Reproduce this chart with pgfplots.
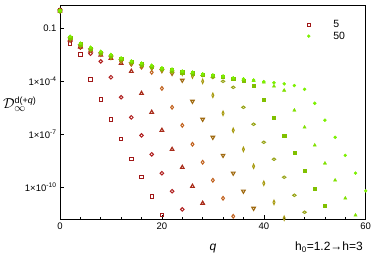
\documentclass[border=0pt]{standalone}
\usepackage{pgfplots}
\pgfplotsset{compat=1.18}
\usepackage{fontspec}
\setmainfont{Liberation Sans}
\definecolor{c5}{HTML}{A01818}
\definecolor{c10}{HTML}{B02020}
\definecolor{c15}{HTML}{A82A18}
\definecolor{c20}{HTML}{C0601C}
\definecolor{c25}{HTML}{A06A10}
\definecolor{c30}{HTML}{A89A10}
\definecolor{c35}{HTML}{98A418}
\definecolor{c40}{HTML}{80C000}
\definecolor{c45}{HTML}{80E000}
\definecolor{c50}{HTML}{7CF000}
\begin{document}
\begin{tikzpicture}
\useasboundingbox (-60pt,-44.7pt) rectangle (314pt,219.3pt);
\begin{axis}[
  scale only axis, width=305.7pt, height=214.3pt,
  xmin=0, xmax=60, ymode=log, ymin=1.55e-12, ymax=2.1,
  xtick={0,20,40,60}, xticklabels={0,20,40,60}, minor x tick num=4,
  ytick={0.1,1e-4,1e-7,1e-10},
  yticklabels={0.1,1×10\textsuperscript{-4},1×10\textsuperscript{-7},1×10\textsuperscript{-10}},
  yminorticks=false,
  tick pos=left, tick align=inside,
  major tick length=4pt, minor tick length=2.5pt,
  tick style={black, line width=0.6pt},
  axis line style={line width=0.8pt},
  ticklabel style={font=\fontsize{9.5}{10}\selectfont},
  clip=false,
  only marks,
  legend image code/.code={\path (-2pt,0pt) (22pt,0pt); \draw[#1] plot coordinates {(0pt,0pt)};},
  legend style={draw=none, fill=none, at={(0.805,0.938)}, anchor=north west,
    font=\fontsize{10.5}{12}\selectfont, inner sep=0pt, row sep=-1.5pt},
  legend cell align=left,
]
\addplot[c5, mark=square, mark size=1.7pt, line width=1pt] coordinates {
(0,1) (2,0.141e-1) (4,0.339e-2) (6,0.129e-3) (8,0.955e-5) (10,0.708e-6) (12,0.525e-7) (14,0.389e-8) (16,0.372e-9) (18,0.309e-10) (20,0.263e-11)};
\addlegendentry{5}
\addplot[c10, mark=o, mark size=1.8pt, line width=1pt, forget plot] coordinates {
(0,1) (2,0.204e-1) (4,0.832e-2) (6,0.372e-2) (8,0.135e-2) (10,0.170e-3) (12,0.126e-4) (14,0.912e-6) (16,0.871e-7) (18,0.741e-8) (20,0.631e-9) (22,0.603e-10) (24,0.562e-11)};
\addplot[c15, mark=triangle, mark size=2.1pt, line width=1.1pt, forget plot] coordinates {
(0,1) (2,0.219e-1) (4,0.891e-2) (6,0.525e-2) (8,0.309e-2) (10,0.204e-2) (12,0.105e-2) (14,0.372e-3) (16,0.209e-4) (18,0.178e-5) (20,0.170e-6) (22,0.141e-7) (24,0.135e-8) (26,0.115e-9) (28,0.126e-10)};
\addplot[c20, mark=diamond, mark size=1.9pt, line width=1pt, forget plot] coordinates {
(0,1) (2,0.234e-1) (4,0.955e-2) (6,0.562e-2) (8,0.331e-2) (10,0.219e-2) (12,0.138e-2) (14,0.933e-3) (16,0.631e-3) (18,0.324e-3) (20,0.398e-4) (22,0.339e-5) (24,0.324e-6) (26,0.275e-7) (28,0.263e-8) (30,0.251e-9) (32,0.240e-10) (34,0.229e-11)};
\addplot[c25, mark=triangle, mark options={rotate=180}, mark size=2.1pt, line width=1.1pt, forget plot] coordinates {
(0,1) (2,0.251e-1) (4,0.102e-1) (6,0.603e-2) (8,0.355e-2) (10,0.234e-2) (12,0.148e-2) (14,0.1e-2) (16,0.759e-3) (18,0.575e-3) (20,0.407e-3) (22,0.282e-3) (24,0.115e-3) (26,0.741e-5) (28,0.708e-6) (30,0.676e-7) (32,0.646e-8) (34,0.631e-9) (36,0.603e-10) (38,0.646e-11)};
\addplot[c30, mark=diamond, mark options={xscale=0.6}, mark size=2.2pt, line width=1pt, forget plot] coordinates {
(0,1) (2,0.269e-1) (4,0.110e-1) (6,0.646e-2) (8,0.380e-2) (10,0.251e-2) (12,0.158e-2) (14,0.107e-2) (16,0.813e-3) (18,0.617e-3) (20,0.437e-3) (22,0.372e-3) (24,0.288e-3) (26,0.200e-3) (28,0.1e-3) (30,0.162e-4) (32,0.155e-5) (34,0.170e-6) (36,0.141e-7) (38,0.155e-8) (40,0.170e-9) (42,0.141e-10) (44,0.178e-11)};
\addplot[c35, mark=diamond, mark options={yscale=0.55}, mark size=2.3pt, line width=1pt, forget plot] coordinates {
(0,1) (2,0.288e-1) (4,0.117e-1) (6,0.692e-2) (8,0.407e-2) (10,0.269e-2) (12,0.170e-2) (14,0.115e-2) (16,0.871e-3) (18,0.661e-3) (20,0.468e-3) (22,0.398e-3) (24,0.309e-3) (26,0.269e-3) (28,0.214e-3) (30,0.166e-3) (32,0.1e-3) (34,0.457e-4) (36,0.339e-5) (38,0.372e-6) (40,0.355e-7) (42,0.389e-8) (44,0.372e-9) (46,0.355e-10) (48,0.389e-11)};
\addplot[c40, mark=square*, mark size=1.6pt, forget plot] coordinates {
(0,1) (2,0.309e-1) (4,0.126e-1) (6,0.741e-2) (8,0.437e-2) (10,0.288e-2) (12,0.182e-2) (14,0.123e-2) (16,0.933e-3) (18,0.708e-3) (20,0.501e-3) (22,0.427e-3) (24,0.331e-3) (26,0.288e-3) (28,0.229e-3) (30,0.200e-3) (32,0.174e-3) (34,0.138e-3) (36,0.105e-3) (38,0.589e-4) (40,0.955e-5) (42,0.912e-6) (44,0.871e-7) (46,0.955e-8) (48,0.912e-9) (50,0.871e-10) (52,0.955e-11)};
\addplot[c45, mark=triangle*, mark size=1.9pt, forget plot] coordinates {
(0,1) (2,0.331e-1) (4,0.135e-1) (6,0.794e-2) (8,0.468e-2) (10,0.309e-2) (12,0.195e-2) (14,0.132e-2) (16,0.1e-2) (18,0.759e-3) (20,0.537e-3) (22,0.457e-3) (24,0.355e-3) (26,0.309e-3) (28,0.245e-3) (30,0.214e-3) (32,0.186e-3) (34,0.148e-3) (36,0.129e-3) (38,0.110e-3) (40,0.891e-4) (42,0.525e-4) (44,0.309e-4) (46,0.229e-5) (48,0.251e-6) (50,0.240e-7) (52,0.229e-8) (54,0.251e-9) (56,0.240e-10) (58,0.263e-11)};
\addplot[c50, mark=*, mark size=1.5pt] coordinates {
(0,1) (2,0.355e-1) (4,0.145e-1) (6,0.851e-2) (8,0.501e-2) (10,0.331e-2) (12,0.209e-2) (14,0.141e-2) (16,0.107e-2) (18,0.813e-3) (20,0.575e-3) (22,0.490e-3) (24,0.380e-3) (26,0.331e-3) (28,0.263e-3) (30,0.229e-3) (32,0.200e-3) (34,0.158e-3) (36,0.138e-3) (38,0.117e-3) (40,0.955e-4) (42,0.832e-4) (44,0.724e-4) (46,0.575e-4) (48,0.355e-4) (50,0.575e-5) (52,0.631e-6) (54,0.676e-7) (56,0.646e-8) (58,0.631e-9) (60,0.631e-10)};
\addlegendentry{50}
\end{axis}
\node[anchor=base west, inner sep=0pt] at (-57pt,111pt) {\fontsize{15}{15}\selectfont$\mathcal{D}^{\mbox{\fontsize{9}{9}\selectfont d(+\textit{q})}}_{\infty}$};
\node[anchor=base, inner sep=0pt] at (153pt,-30.9pt) {\fontsize{12}{12}\selectfont\textit{q}};
\node[anchor=base east, inner sep=0pt] at (303pt,-31.7pt) {\fontsize{12}{12}\selectfont h\textsubscript{0}=1.2→h=3};
\end{tikzpicture}
\end{document}
